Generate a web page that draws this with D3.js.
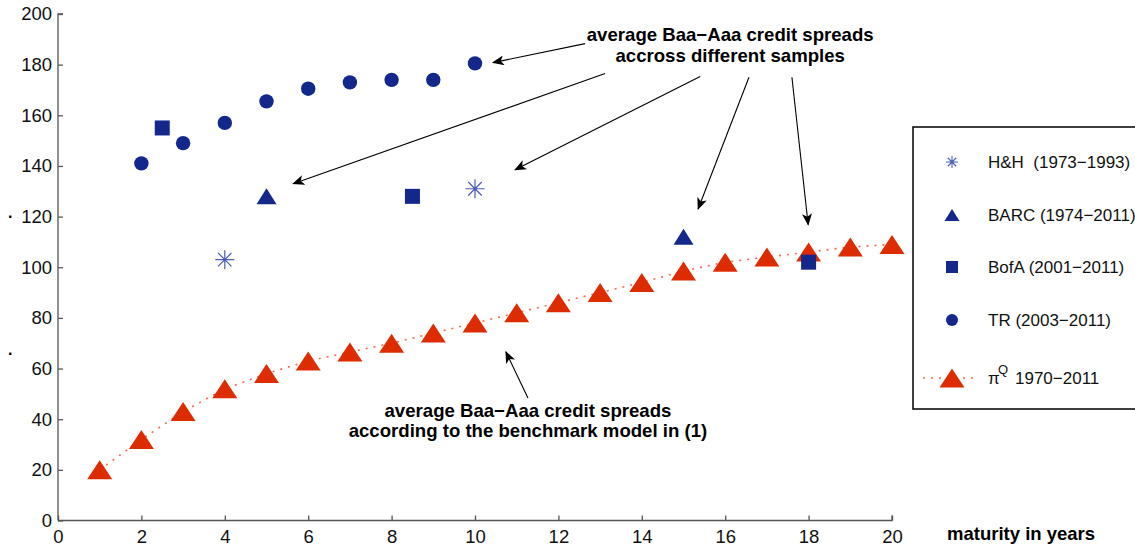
<!DOCTYPE html>
<html>
<head>
<meta charset="utf-8">
<script src="https://cdn.jsdelivr.net/npm/d3@7"></script>
<style>
  body { margin: 0; background: #fff; }
  text { font-family: "Liberation Sans", Arial, sans-serif; white-space: pre; }
</style>
</head>
<body>
<svg id="chart" width="1135" height="548"></svg>
<script>
// data
const trX = [2, 3, 4, 5, 6, 7, 8, 9, 10];
const trY = [141, 149, 157, 165.5, 170.5, 173, 174, 174, 180.5];
const bofaX = [2.5, 8.5, 18];
const bofaY = [155, 128, 102];
const barcX = [5, 15];
const barcY = [128, 112];
const hhX = [4, 10];
const hhY = [103, 131];
const piX = [1, 2, 3, 4, 5, 6, 7, 8, 9, 10, 11, 12, 13, 14, 15, 16, 17, 18, 19, 20];
const piY = [20, 32, 43, 52, 58, 63, 66.5, 70, 74, 78, 82, 86, 90, 94, 98.5, 102, 104, 106, 108, 109];
const xTicks = [0, 2, 4, 6, 8, 10, 12, 14, 16, 18, 20];
const yTicks = [0, 20, 40, 60, 80, 100, 120, 140, 160, 180, 200];
const legendLabels = ["H&H  (1973\u22121993)", "BARC (1974\u22122011)", "BofA (2001\u22122011)", "TR (2003\u22122011)", "1970\u22122011"];

const blue = "#14288c", lightBlue = "#4a5cb4", red = "#dd2c00", dotRed = "#ee6a50";

const svg = d3.select("#chart");
const x = d3.scaleLinear().domain([0, 20]).range([58, 892]);
const y = d3.scaleLinear().domain([0, 200]).range([520.5, 14]);

// axes, ticks inward, no box
const xAxis = d3.axisBottom(x).tickValues(xTicks).tickSize(-5).tickPadding(9);
const yAxis = d3.axisLeft(y).tickValues(yTicks).tickSize(-5).tickPadding(6);

const gx = svg.append("g").attr("transform", `translate(0,${y(0)})`).call(xAxis);
const gy = svg.append("g").attr("transform", `translate(${x(0)},0)`).call(yAxis);
[gx, gy].forEach(g => {
  g.select(".domain").attr("stroke", "#555").attr("stroke-width", 1.3);
  g.selectAll(".tick line").attr("stroke", "#555").attr("stroke-width", 1.3);
  g.selectAll(".tick text").attr("font-size", 18.5).attr("fill", "#111");
});
gx.select(".domain").attr("d", `M${x(0)},0H${x(20)}V-5`);
gy.select(".domain").attr("d", `M0,${y(0)}V${y(200)}H5`);

svg.append("text").attr("x", 947).attr("y", 540)
  .attr("font-size", 18.5).attr("font-weight", "bold").text("maturity in years");

// stray label remnants at left edge
svg.append("text").attr("x", 8).attr("y", 218).attr("font-size", 16).attr("font-weight", "bold").text(".");
svg.append("text").attr("x", 8).attr("y", 355).attr("font-size", 16).attr("font-weight", "bold").text(".");

// marker shapes
const tri = (w, h) => `M${-w / 2},${h / 2}L0,${-h / 2}L${w / 2},${h / 2}Z`;
const star = r => {
  const d = r * Math.SQRT1_2;
  return `M0,${-r}V${r}M${-r},0H${r}M${-d},${-d}L${d},${d}M${-d},${d}L${d},${-d}`;
};

// pi^Q model line + triangles
const piData = piX.map((v, i) => [v, piY[i]]);
svg.append("path").datum(piData)
  .attr("d", d3.line().x(d => x(d[0])).y(d => y(d[1])))
  .attr("fill", "none").attr("stroke", dotRed).attr("stroke-width", 1.6)
  .attr("stroke-dasharray", "2,6");
svg.append("g").selectAll("path").data(piData).join("path")
  .attr("transform", d => `translate(${x(d[0])},${y(d[1])})`)
  .attr("d", tri(25, 19)).attr("fill", red);

// TR circles
svg.append("g").selectAll("circle").data(trX.map((v, i) => [v, trY[i]])).join("circle")
  .attr("cx", d => x(d[0])).attr("cy", d => y(d[1])).attr("r", 7.2).attr("fill", blue);

// BofA squares
svg.append("g").selectAll("rect").data(bofaX.map((v, i) => [v, bofaY[i]])).join("rect")
  .attr("x", d => x(d[0]) - 7.5).attr("y", d => y(d[1]) - 7.5)
  .attr("width", 15).attr("height", 15).attr("fill", blue);

// BARC triangles
svg.append("g").selectAll("path").data(barcX.map((v, i) => [v, barcY[i]])).join("path")
  .attr("transform", d => `translate(${x(d[0])},${y(d[1])})`)
  .attr("d", tri(20, 16)).attr("fill", blue);

// H&H asterisks
svg.append("g").selectAll("path").data(hhX.map((v, i) => [v, hhY[i]])).join("path")
  .attr("transform", d => `translate(${x(d[0])},${y(d[1])})`)
  .attr("d", star(9.5)).attr("fill", "none").attr("stroke", lightBlue).attr("stroke-width", 1.2);

// annotations
svg.append("defs").append("marker")
  .attr("id", "head").attr("viewBox", "0 0 12 10").attr("refX", 11).attr("refY", 5)
  .attr("markerWidth", 12).attr("markerHeight", 10).attr("markerUnits", "userSpaceOnUse")
  .attr("orient", "auto")
  .append("path").attr("d", "M0,0L12,5L0,10L3,5Z").attr("fill", "#000");

const arrows = [
  [[12.64, 188.3], [10.43, 180.8]],
  [[13.12, 176.5], [5.64, 133]],
  [[15.4, 175.3], [10.96, 138.5]],
  [[16.57, 175], [15.35, 123]],
  [[17.6, 175], [17.99, 116.8]],
  [[11.27, 48.4], [10.74, 66.6]]
];
svg.append("g").selectAll("line").data(arrows).join("line")
  .attr("x1", d => x(d[0][0])).attr("y1", d => y(d[0][1]))
  .attr("x2", d => x(d[1][0])).attr("y2", d => y(d[1][1]))
  .attr("stroke", "#000").attr("stroke-width", 1.1).attr("marker-end", "url(#head)");

const notes = [
  [16.12, 189.5, "average Baa\u2212Aaa credit spreads"],
  [16.12, 181.2, "accross different samples"],
  [11.27, 40.9, "average Baa\u2212Aaa credit spreads"],
  [11.27, 33, "according to the benchmark model in (1)"]
];
svg.append("g").selectAll("text").data(notes).join("text")
  .attr("x", d => x(d[0])).attr("y", d => y(d[1]))
  .attr("text-anchor", "middle").attr("font-size", 18.6).attr("font-weight", "bold")
  .text(d => d[2]);

// legend box (right side cut off by the frame)
const lg = svg.append("g");
lg.append("rect").attr("x", 913).attr("y", 127).attr("width", 260).attr("height", 282)
  .attr("fill", "#fff").attr("stroke", "#000").attr("stroke-width", 1.5);
const rowY = [162, 215, 267, 320, 378];
const mx = 952;
lg.append("path").attr("transform", `translate(${mx},${rowY[0]})`).attr("d", star(6))
  .attr("fill", "none").attr("stroke", lightBlue).attr("stroke-width", 1.1);
lg.append("path").attr("transform", `translate(${mx},${rowY[1]})`).attr("d", tri(15, 12)).attr("fill", blue);
lg.append("rect").attr("x", mx - 6).attr("y", rowY[2] - 6).attr("width", 12).attr("height", 12).attr("fill", blue);
lg.append("circle").attr("cx", mx).attr("cy", rowY[3]).attr("r", 6).attr("fill", blue);
lg.append("line").attr("x1", 923).attr("x2", 978).attr("y1", rowY[4]).attr("y2", rowY[4])
  .attr("stroke", dotRed).attr("stroke-width", 1.6).attr("stroke-dasharray", "2,6");
lg.append("path").attr("transform", `translate(${mx},${rowY[4]})`).attr("d", tri(25, 19)).attr("fill", red);

lg.selectAll("text.lab").data(legendLabels.slice(0, 4)).join("text").attr("class", "lab")
  .attr("x", 988).attr("y", (d, i) => rowY[i] + 6)
  .attr("font-size", 17).attr("fill", "#111").text(d => d);
lg.append("text").attr("x", 988).attr("y", rowY[4] + 6).attr("font-size", 17).attr("fill", "#111").text("\u03c0");
lg.append("text").attr("x", 998).attr("y", rowY[4] - 4).attr("font-size", 13).attr("fill", "#111").text("Q");
lg.append("text").attr("x", 1015).attr("y", rowY[4] + 6).attr("font-size", 17).attr("fill", "#111").text(legendLabels[4]);
</script>
</body>
</html>
